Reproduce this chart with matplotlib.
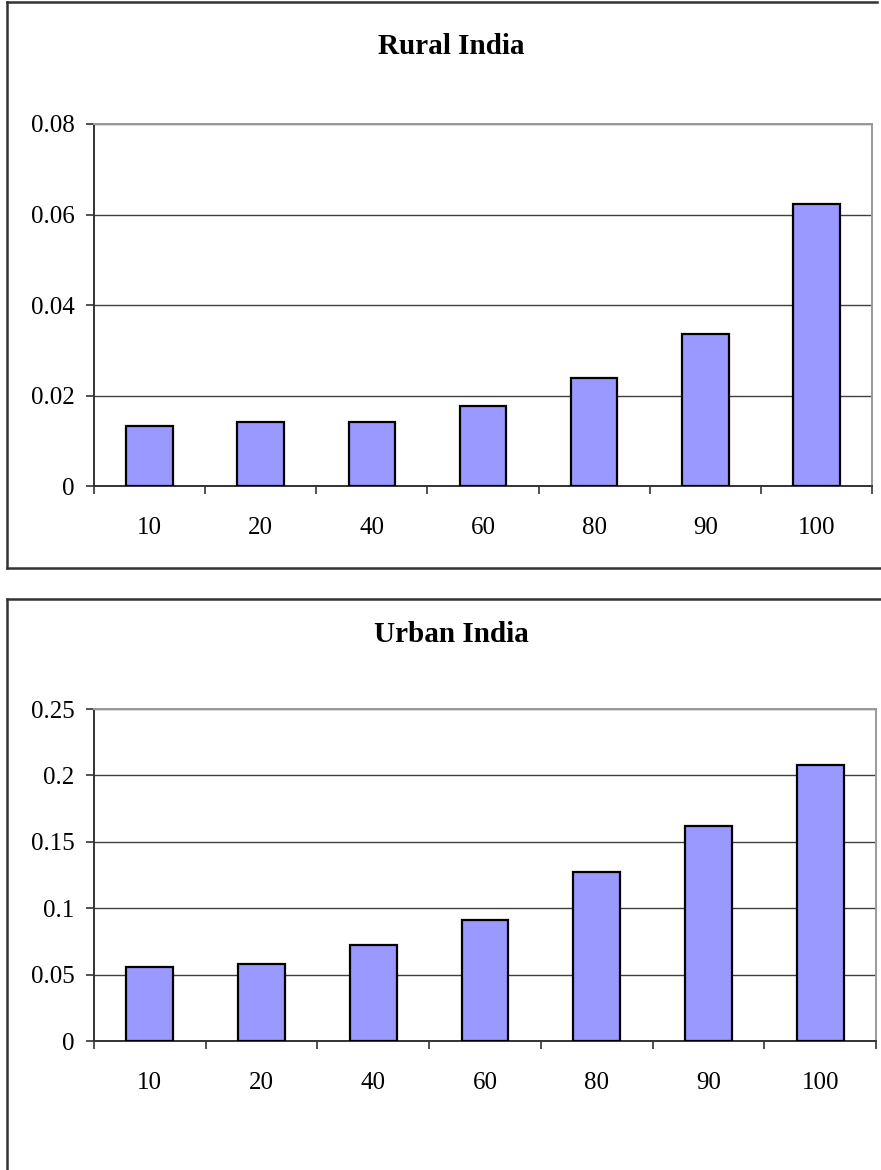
import matplotlib
matplotlib.use("Agg")
import matplotlib.pyplot as plt
from matplotlib.lines import Line2D

plt.rcParams['font.family'] = ['Liberation Serif', 'DejaVu Serif']

# data
categories = ['10', '20', '40', '60', '80', '90', '100']
rural = [0.0133, 0.0141, 0.0141, 0.0177, 0.0239, 0.0336, 0.0623]
urban = [0.0558, 0.0583, 0.0721, 0.0910, 0.1274, 0.1616, 0.2080]
rural_ticks = [0, 0.02, 0.04, 0.06, 0.08]
rural_labels = ['0', '0.02', '0.04', '0.06', '0.08']
urban_ticks = [0, 0.05, 0.1, 0.15, 0.2, 0.25]
urban_labels = ['0', '0.05', '0.1', '0.15', '0.2', '0.25']

W, H = 881, 1170
fig = plt.figure(figsize=(W / 100, H / 100), dpi=100)


def px(x0, y0, x1, y1):
    # pixel box (top-left origin) -> figure fraction rect
    return [x0 / W, 1 - y1 / H, (x1 - x0) / W, (y1 - y0) / H]


def panel(rect, values, ticks, labels, title, title_y):
    ax = fig.add_axes(rect)
    pos = list(range(len(values)))
    ax.bar(pos, values, width=0.42, color='#9999FF', edgecolor='black',
           linewidth=1.6, zorder=3)
    ax.set_xlim(-0.5, len(values) - 0.5)
    ax.set_ylim(ticks[0], ticks[-1])
    ax.set_yticks(ticks)
    ax.set_yticklabels(labels)
    ax.set_xticks(pos)
    ax.set_xticklabels(categories)
    ax.set_xticks([p - 0.5 for p in pos] + [len(values) - 0.5], minor=True)
    ax.tick_params(axis='x', which='major', length=0, pad=22, labelsize=18)
    ax.tick_params(axis='x', which='minor', length=5.5, width=1.2, color='#333333',
                   direction='out')
    ax.tick_params(axis='y', length=6, width=1.2, color='#333333', pad=8,
                   labelsize=18)
    ax.grid(axis='y', color='#404040', linewidth=1.0, zorder=1)
    for s in ['top', 'right']:
        ax.spines[s].set_color('#999999')
        ax.spines[s].set_linewidth(1.4)
    for s in ['left', 'bottom']:
        ax.spines[s].set_color('#333333')
        ax.spines[s].set_linewidth(1.4)
    fig.text(451 / W, 1 - title_y / H, title, ha='center', va='center',
             fontsize=21, fontweight='bold')
    return ax


panel(px(94, 124, 872, 486), rural, rural_ticks, rural_labels, 'Rural India', 47)
panel(px(94, 709, 876, 1041), urban, urban_ticks, urban_labels, 'Urban India', 635)

# outer chart frames
def fline(xs, ys):
    fig.add_artist(Line2D([x / W for x in xs], [1 - y / H for y in ys],
                          color='#333333', linewidth=1.8))

fline([7, 7], [2, 568])
fline([7, 877], [2, 2])
fline([7, 881], [568, 568])
fline([7, 881], [599, 599])
fline([7, 7], [599, 1170])

fig.savefig('out.png', dpi=100)
